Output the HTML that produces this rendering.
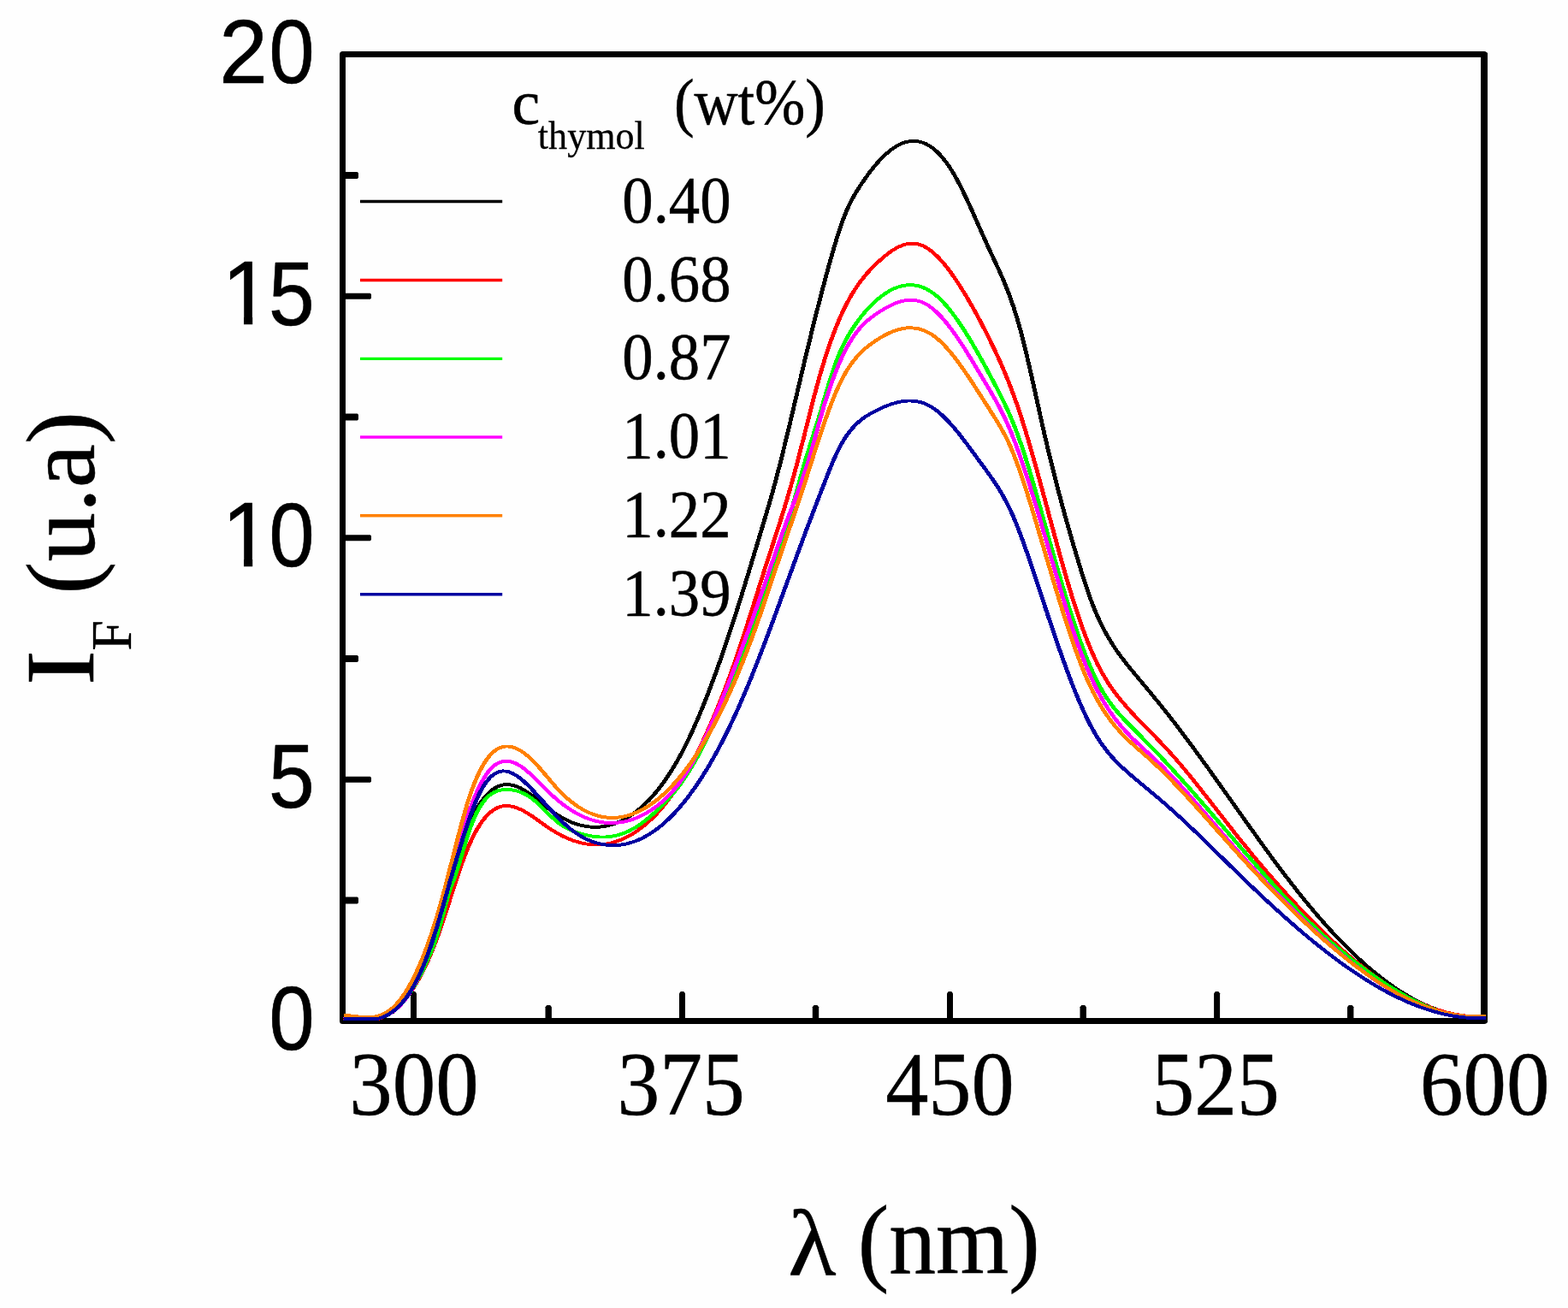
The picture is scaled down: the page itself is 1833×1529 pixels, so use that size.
<!DOCTYPE html>
<html lang="en"><head><meta charset="utf-8"><title>Fluorescence spectra</title>
<style>html,body{margin:0;padding:0;background:#fff}body{width:1833px;height:1529px;overflow:hidden}svg{display:block}
.ser{font-family:"Liberation Serif","DejaVu Serif",serif;fill:#000;stroke:#000;stroke-linejoin:round}.san{font-family:"Liberation Sans","DejaVu Sans",sans-serif;fill:#000;stroke:#000;stroke-linejoin:round}
</style></head><body>
<svg width="1833" height="1529" viewBox="0 0 1833 1529">
<rect x="0" y="0" width="1833" height="1529" fill="#fefefe"/>
<rect x="400.5" y="63.5" width="1334.5" height="1130.0" fill="none" stroke="#000" stroke-width="7" stroke-linejoin="round"/>
<rect x="1731" y="61.6" width="8" height="1133.8" fill="#000"/>
<g fill="#000">
<polygon points="400.6,907.73 432.7,907.73 434.0,909.02 434.0,913.43 432.7,914.73 400.6,914.73"/>
<polygon points="400.6,625.25 432.7,625.25 434.0,626.55 434.0,630.95 432.7,632.25 400.6,632.25"/>
<polygon points="400.6,342.78 432.7,342.78 434.0,344.08 434.0,348.48 432.7,349.78 400.6,349.78"/>
<polygon points="400.6,1048.46 417.7,1048.46 419.0,1049.76 419.0,1055.16 417.7,1056.46 400.6,1056.46"/>
<polygon points="400.6,765.99 417.7,765.99 419.0,767.29 419.0,772.69 417.7,773.99 400.6,773.99"/>
<polygon points="400.6,483.51 417.7,483.51 419.0,484.81 419.0,490.21 417.7,491.51 400.6,491.51"/>
<polygon points="400.6,201.04 417.7,201.04 419.0,202.34 419.0,207.74 417.7,209.04 400.6,209.04"/>
<polygon points="480.00,1193.4 480.00,1161.2 481.76,1159.0 485.24,1159.0 487.00,1161.2 487.00,1193.4"/>
<polygon points="794.00,1193.4 794.00,1161.2 795.76,1159.0 799.24,1159.0 801.00,1161.2 801.00,1193.4"/>
<polygon points="1107.00,1193.4 1107.00,1161.2 1108.76,1159.0 1112.24,1159.0 1114.00,1161.2 1114.00,1193.4"/>
<polygon points="1419.10,1193.4 1419.10,1161.2 1420.86,1159.0 1424.34,1159.0 1426.10,1161.2 1426.10,1193.4"/>
<polygon points="637.50,1193.4 637.50,1177.2 639.26,1175.0 643.14,1175.0 644.90,1177.2 644.90,1193.4"/>
<polygon points="949.80,1193.4 949.80,1177.2 951.56,1175.0 955.44,1175.0 957.20,1177.2 957.20,1193.4"/>
<polygon points="1262.50,1193.4 1262.50,1177.2 1264.26,1175.0 1268.14,1175.0 1269.90,1177.2 1269.90,1193.4"/>
<polygon points="1575.00,1193.4 1575.00,1177.2 1576.76,1175.0 1580.64,1175.0 1582.40,1177.2 1582.40,1193.4"/>
</g>
<g id="curves" fill="none" stroke-width="3.9" stroke-linejoin="round" stroke-linecap="butt" shape-rendering="crispEdges" transform="scale(1.25 1)">
<path stroke="#000000" d="M321.28 1191.0 L323.68 1191.0 L326.08 1191.1 L328.48 1191.2 L330.88 1191.4 L333.28 1191.4 L335.68 1191.4 L338.08 1191.4 L340.48 1191.4 L342.88 1191.4 L345.28 1191.4 L347.68 1191.4 L350.08 1191.4 L352.48 1191.0 L354.88 1190.3 L357.28 1189.4 L359.68 1188.3 L362.08 1186.9 L364.48 1185.2 L366.88 1183.3 L369.28 1181.0 L371.68 1178.4 L374.08 1175.4 L376.48 1172.0 L378.88 1168.2 L381.28 1164.0 L383.68 1159.3 L386.08 1154.2 L388.48 1148.6 L390.88 1142.6 L393.28 1136.1 L395.68 1129.2 L398.08 1121.8 L400.48 1113.9 L402.88 1105.6 L405.28 1096.9 L407.68 1087.7 L410.08 1078.0 L412.48 1068.1 L414.88 1057.9 L417.28 1047.6 L419.68 1037.2 L422.08 1026.9 L424.48 1016.8 L426.88 1006.9 L429.28 997.3 L431.68 988.1 L434.08 979.4 L436.48 971.4 L438.88 964.0 L441.28 957.2 L443.68 951.1 L446.08 945.5 L448.48 940.5 L450.88 936.0 L453.28 932.1 L455.68 928.6 L458.08 925.7 L460.48 923.2 L462.88 921.2 L465.28 919.6 L467.68 918.4 L470.08 917.6 L472.48 917.2 L474.88 917.1 L477.28 917.4 L479.68 917.9 L482.08 918.8 L484.48 919.9 L486.88 921.3 L489.28 923.0 L491.68 924.8 L494.08 926.8 L496.48 928.9 L498.88 931.2 L501.28 933.6 L503.68 936.0 L506.08 938.4 L508.48 940.8 L510.88 943.2 L513.28 945.6 L515.68 947.8 L518.08 949.9 L520.48 951.9 L522.88 953.8 L525.28 955.6 L527.68 957.2 L530.08 958.7 L532.48 960.1 L534.88 961.4 L537.28 962.5 L539.68 963.5 L542.08 964.4 L544.48 965.1 L546.88 965.7 L549.28 966.2 L551.68 966.5 L554.08 966.7 L556.48 966.8 L558.88 966.8 L561.28 966.6 L563.68 966.2 L566.08 965.7 L568.48 965.1 L570.88 964.4 L573.28 963.5 L575.68 962.4 L578.08 961.2 L580.48 959.9 L582.88 958.4 L585.28 956.8 L587.68 955.0 L590.08 953.1 L592.48 951.0 L594.88 948.8 L597.28 946.4 L599.68 943.9 L602.08 941.2 L604.48 938.3 L606.88 935.3 L609.28 932.1 L611.68 928.7 L614.08 925.2 L616.48 921.4 L618.88 917.5 L621.28 913.4 L623.68 909.0 L626.08 904.5 L628.48 899.8 L630.88 894.8 L633.28 889.7 L635.68 884.3 L638.08 878.7 L640.48 872.9 L642.88 866.8 L645.28 860.6 L647.68 854.1 L650.08 847.3 L652.48 840.4 L654.88 833.3 L657.28 826.0 L659.68 818.5 L662.08 810.9 L664.48 803.0 L666.88 795.0 L669.28 786.9 L671.68 778.5 L674.08 770.0 L676.48 761.4 L678.88 752.6 L681.28 743.6 L683.68 734.5 L686.08 725.3 L688.48 715.9 L690.88 706.5 L693.28 696.9 L695.68 687.2 L698.08 677.5 L700.48 667.7 L702.88 657.8 L705.28 647.8 L707.68 637.9 L710.08 627.9 L712.48 617.9 L714.88 607.9 L717.28 597.8 L719.68 587.6 L722.08 577.1 L724.48 566.2 L726.88 554.9 L729.28 543.3 L731.68 531.3 L734.08 519.1 L736.48 506.7 L738.88 494.2 L741.28 481.5 L743.68 468.8 L746.08 456.0 L748.48 443.2 L750.88 430.5 L753.28 417.9 L755.68 405.5 L758.08 393.2 L760.48 381.0 L762.88 369.0 L765.28 357.2 L767.68 345.5 L770.08 334.1 L772.48 322.9 L774.88 311.9 L777.28 301.1 L779.68 290.7 L782.08 280.7 L784.48 271.2 L786.88 262.2 L789.28 254.0 L791.68 246.5 L794.08 239.9 L796.48 233.9 L798.88 228.4 L801.28 223.4 L803.68 218.7 L806.08 214.2 L808.48 209.8 L810.88 205.6 L813.28 201.5 L815.68 197.7 L818.08 194.0 L820.48 190.5 L822.88 187.2 L825.28 184.1 L827.68 181.1 L830.08 178.5 L832.48 176.0 L834.88 173.8 L837.28 171.8 L839.68 170.0 L842.08 168.5 L844.48 167.2 L846.88 166.2 L849.28 165.5 L851.68 165.0 L854.08 164.9 L856.48 165.0 L858.88 165.4 L861.28 166.1 L863.68 167.0 L866.08 168.3 L868.48 170.0 L870.88 171.9 L873.28 174.1 L875.68 176.7 L878.08 179.6 L880.48 182.9 L882.88 186.5 L885.28 190.4 L887.68 194.7 L890.08 199.4 L892.48 204.4 L894.88 209.8 L897.28 215.4 L899.68 221.4 L902.08 227.5 L904.48 233.9 L906.88 240.4 L909.28 247.0 L911.68 253.8 L914.08 260.5 L916.48 267.3 L918.88 274.1 L921.28 280.8 L923.68 287.4 L926.08 293.9 L928.48 300.3 L930.88 306.7 L933.28 313.1 L935.68 319.8 L938.08 326.6 L940.48 333.8 L942.88 341.4 L945.28 349.5 L947.68 358.2 L950.08 367.6 L952.48 377.6 L954.88 388.5 L957.28 400.2 L959.68 412.5 L962.08 425.2 L964.48 438.4 L966.88 451.9 L969.28 465.4 L971.68 479.1 L974.08 492.6 L976.48 505.9 L978.88 518.8 L981.28 531.5 L983.68 543.8 L986.08 555.7 L988.48 567.4 L990.88 578.9 L993.28 590.0 L995.68 601.0 L998.08 611.8 L1000.48 622.3 L1002.88 632.7 L1005.28 643.0 L1007.68 653.1 L1010.08 663.1 L1012.48 672.7 L1014.88 682.1 L1017.28 691.0 L1019.68 699.5 L1022.08 707.5 L1024.48 714.9 L1026.88 721.7 L1029.28 728.2 L1031.68 734.2 L1034.08 739.8 L1036.48 745.1 L1038.88 750.1 L1041.28 754.9 L1043.68 759.4 L1046.08 763.7 L1048.48 767.8 L1050.88 771.7 L1053.28 775.6 L1055.68 779.3 L1058.08 783.0 L1060.48 786.6 L1062.88 790.2 L1065.28 793.8 L1067.68 797.4 L1070.08 801.0 L1072.48 804.6 L1074.88 808.2 L1077.28 811.9 L1079.68 815.5 L1082.08 819.2 L1084.48 822.9 L1086.88 826.7 L1089.28 830.4 L1091.68 834.2 L1094.08 838.0 L1096.48 841.9 L1098.88 845.7 L1101.28 849.7 L1103.68 853.6 L1106.08 857.6 L1108.48 861.6 L1110.88 865.6 L1113.28 869.6 L1115.68 873.7 L1118.08 877.8 L1120.48 881.9 L1122.88 886.0 L1125.28 890.2 L1127.68 894.3 L1130.08 898.5 L1132.48 902.7 L1134.88 906.9 L1137.28 911.1 L1139.68 915.3 L1142.08 919.6 L1144.48 923.8 L1146.88 928.0 L1149.28 932.3 L1151.68 936.5 L1154.08 940.7 L1156.48 945.0 L1158.88 949.2 L1161.28 953.5 L1163.68 957.7 L1166.08 961.9 L1168.48 966.1 L1170.88 970.3 L1173.28 974.5 L1175.68 978.7 L1178.08 982.9 L1180.48 987.0 L1182.88 991.2 L1185.28 995.3 L1187.68 999.4 L1190.08 1003.5 L1192.48 1007.5 L1194.88 1011.6 L1197.28 1015.6 L1199.68 1019.6 L1202.08 1023.5 L1204.48 1027.4 L1206.88 1031.3 L1209.28 1035.2 L1211.68 1039.0 L1214.08 1042.8 L1216.48 1046.6 L1218.88 1050.3 L1221.28 1054.0 L1223.68 1057.7 L1226.08 1061.3 L1228.48 1064.8 L1230.88 1068.4 L1233.28 1071.8 L1235.68 1075.3 L1238.08 1078.7 L1240.48 1082.1 L1242.88 1085.4 L1245.28 1088.7 L1247.68 1091.9 L1250.08 1095.1 L1252.48 1098.2 L1254.88 1101.3 L1257.28 1104.4 L1259.68 1107.4 L1262.08 1110.4 L1264.48 1113.3 L1266.88 1116.1 L1269.28 1119.0 L1271.68 1121.7 L1274.08 1124.5 L1276.48 1127.1 L1278.88 1129.8 L1281.28 1132.3 L1283.68 1134.8 L1286.08 1137.3 L1288.48 1139.7 L1290.88 1142.1 L1293.28 1144.4 L1295.68 1146.7 L1298.08 1148.9 L1300.48 1151.0 L1302.88 1153.1 L1305.28 1155.2 L1307.68 1157.2 L1310.08 1159.1 L1312.48 1161.0 L1314.88 1162.8 L1317.28 1164.6 L1319.68 1166.3 L1322.08 1167.9 L1324.48 1169.5 L1326.88 1171.0 L1329.28 1172.5 L1331.68 1173.9 L1334.08 1175.2 L1336.48 1176.5 L1338.88 1177.8 L1341.28 1178.9 L1343.68 1180.0 L1346.08 1181.0 L1348.48 1182.0 L1350.88 1182.9 L1353.28 1183.8 L1355.68 1184.5 L1358.08 1185.2 L1360.48 1185.9 L1362.88 1186.5 L1365.28 1187.0 L1367.68 1187.4 L1370.08 1187.8 L1372.48 1188.1 L1374.88 1188.3 L1377.28 1188.5 L1379.68 1188.6 L1382.08 1188.6 L1384.48 1188.6 L1386.88 1188.4 L1389.60 1188.4"/>
<path stroke="#ff0000" d="M321.28 1190.3 L323.68 1191.1 L326.08 1191.4 L328.48 1191.4 L330.88 1191.4 L333.28 1191.4 L335.68 1191.4 L338.08 1191.4 L340.48 1191.4 L342.88 1191.4 L345.28 1191.4 L347.68 1191.4 L350.08 1191.4 L352.48 1191.4 L354.88 1190.5 L357.28 1189.3 L359.68 1187.9 L362.08 1186.3 L364.48 1184.5 L366.88 1182.4 L369.28 1180.1 L371.68 1177.5 L374.08 1174.6 L376.48 1171.5 L378.88 1168.0 L381.28 1164.3 L383.68 1160.2 L386.08 1155.8 L388.48 1151.1 L390.88 1146.0 L393.28 1140.6 L395.68 1134.8 L398.08 1128.7 L400.48 1122.1 L402.88 1115.2 L405.28 1107.8 L407.68 1100.1 L410.08 1091.9 L412.48 1083.3 L414.88 1074.3 L417.28 1065.1 L419.68 1055.8 L422.08 1046.4 L424.48 1037.0 L426.88 1027.8 L429.28 1018.9 L431.68 1010.3 L434.08 1002.1 L436.48 994.5 L438.88 987.4 L441.28 980.9 L443.68 974.9 L446.08 969.5 L448.48 964.6 L450.88 960.2 L453.28 956.4 L455.68 953.0 L458.08 950.1 L460.48 947.7 L462.88 945.7 L465.28 944.2 L467.68 943.1 L470.08 942.4 L472.48 942.1 L474.88 942.0 L477.28 942.4 L479.68 942.9 L482.08 943.8 L484.48 944.9 L486.88 946.2 L489.28 947.7 L491.68 949.4 L494.08 951.2 L496.48 953.1 L498.88 955.1 L501.28 957.2 L503.68 959.4 L506.08 961.5 L508.48 963.7 L510.88 965.8 L513.28 967.9 L515.68 969.8 L518.08 971.7 L520.48 973.5 L522.88 975.2 L525.28 976.8 L527.68 978.3 L530.08 979.6 L532.48 980.9 L534.88 982.1 L537.28 983.1 L539.68 984.0 L542.08 984.9 L544.48 985.6 L546.88 986.2 L549.28 986.7 L551.68 987.0 L554.08 987.3 L556.48 987.4 L558.88 987.4 L561.28 987.3 L563.68 987.0 L566.08 986.7 L568.48 986.2 L570.88 985.6 L573.28 984.8 L575.68 983.9 L578.08 982.9 L580.48 981.8 L582.88 980.5 L585.28 979.1 L587.68 977.6 L590.08 975.9 L592.48 974.1 L594.88 972.1 L597.28 970.0 L599.68 967.8 L602.08 965.4 L604.48 962.9 L606.88 960.2 L609.28 957.4 L611.68 954.4 L614.08 951.3 L616.48 948.0 L618.88 944.5 L621.28 940.9 L623.68 937.2 L626.08 933.2 L628.48 929.1 L630.88 924.9 L633.28 920.5 L635.68 915.9 L638.08 911.1 L640.48 906.1 L642.88 901.0 L645.28 895.7 L647.68 890.2 L650.08 884.6 L652.48 878.8 L654.88 872.7 L657.28 866.6 L659.68 860.2 L662.08 853.6 L664.48 846.9 L666.88 840.0 L669.28 832.9 L671.68 825.6 L674.08 818.1 L676.48 810.4 L678.88 802.6 L681.28 794.5 L683.68 786.3 L686.08 777.9 L688.48 769.3 L690.88 760.5 L693.28 751.5 L695.68 742.4 L698.08 733.1 L700.48 723.7 L702.88 714.2 L705.28 704.7 L707.68 695.1 L710.08 685.6 L712.48 676.1 L714.88 666.7 L717.28 657.3 L719.68 648.0 L722.08 638.8 L724.48 629.6 L726.88 620.3 L729.28 611.0 L731.68 601.4 L734.08 591.7 L736.48 581.7 L738.88 571.5 L741.28 560.9 L743.68 550.0 L746.08 538.6 L748.48 527.0 L750.88 515.2 L753.28 503.2 L755.68 491.3 L758.08 479.5 L760.48 467.8 L762.88 456.4 L765.28 445.4 L767.68 434.9 L770.08 424.9 L772.48 415.3 L774.88 406.2 L777.28 397.6 L779.68 389.5 L782.08 381.8 L784.48 374.5 L786.88 367.7 L789.28 361.3 L791.68 355.3 L794.08 349.7 L796.48 344.5 L798.88 339.6 L801.28 335.0 L803.68 330.8 L806.08 326.8 L808.48 323.1 L810.88 319.5 L813.28 316.2 L815.68 313.0 L818.08 310.0 L820.48 307.1 L822.88 304.4 L825.28 301.7 L827.68 299.2 L830.08 296.8 L832.48 294.6 L834.88 292.5 L837.28 290.7 L839.68 289.1 L842.08 287.7 L844.48 286.5 L846.88 285.6 L849.28 285.0 L851.68 284.6 L854.08 284.6 L856.48 284.9 L858.88 285.5 L861.28 286.4 L863.68 287.7 L866.08 289.3 L868.48 291.2 L870.88 293.4 L873.28 295.9 L875.68 298.7 L878.08 301.7 L880.48 304.9 L882.88 308.4 L885.28 312.1 L887.68 316.0 L890.08 320.1 L892.48 324.4 L894.88 328.9 L897.28 333.5 L899.68 338.2 L902.08 343.1 L904.48 348.0 L906.88 353.2 L909.28 358.4 L911.68 363.7 L914.08 369.2 L916.48 374.8 L918.88 380.5 L921.28 386.4 L923.68 392.3 L926.08 398.4 L928.48 404.6 L930.88 410.9 L933.28 417.4 L935.68 424.0 L938.08 430.9 L940.48 438.0 L942.88 445.3 L945.28 453.0 L947.68 461.0 L950.08 469.3 L952.48 478.0 L954.88 487.1 L957.28 496.5 L959.68 506.3 L962.08 516.3 L964.48 526.6 L966.88 537.2 L969.28 547.9 L971.68 558.7 L974.08 569.7 L976.48 580.8 L978.88 591.9 L981.28 603.0 L983.68 614.1 L986.08 625.2 L988.48 636.2 L990.88 647.1 L993.28 657.8 L995.68 668.4 L998.08 678.7 L1000.48 688.8 L1002.88 698.6 L1005.28 708.1 L1007.68 717.2 L1010.08 726.1 L1012.48 734.5 L1014.88 742.7 L1017.28 750.4 L1019.68 757.8 L1022.08 764.8 L1024.48 771.4 L1026.88 777.5 L1029.28 783.3 L1031.68 788.7 L1034.08 793.7 L1036.48 798.5 L1038.88 803.0 L1041.28 807.2 L1043.68 811.2 L1046.08 815.1 L1048.48 818.8 L1050.88 822.3 L1053.28 825.8 L1055.68 829.2 L1058.08 832.5 L1060.48 835.7 L1062.88 838.9 L1065.28 842.0 L1067.68 845.1 L1070.08 848.2 L1072.48 851.3 L1074.88 854.3 L1077.28 857.4 L1079.68 860.4 L1082.08 863.5 L1084.48 866.6 L1086.88 869.8 L1089.28 873.0 L1091.68 876.2 L1094.08 879.5 L1096.48 882.9 L1098.88 886.3 L1101.28 889.8 L1103.68 893.3 L1106.08 896.8 L1108.48 900.4 L1110.88 904.0 L1113.28 907.7 L1115.68 911.4 L1118.08 915.1 L1120.48 918.9 L1122.88 922.7 L1125.28 926.5 L1127.68 930.3 L1130.08 934.1 L1132.48 937.9 L1134.88 941.8 L1137.28 945.6 L1139.68 949.5 L1142.08 953.4 L1144.48 957.2 L1146.88 961.1 L1149.28 964.9 L1151.68 968.7 L1154.08 972.5 L1156.48 976.3 L1158.88 980.1 L1161.28 983.8 L1163.68 987.5 L1166.08 991.2 L1168.48 994.9 L1170.88 998.6 L1173.28 1002.2 L1175.68 1005.8 L1178.08 1009.3 L1180.48 1012.9 L1182.88 1016.4 L1185.28 1019.9 L1187.68 1023.4 L1190.08 1026.8 L1192.48 1030.2 L1194.88 1033.6 L1197.28 1037.0 L1199.68 1040.4 L1202.08 1043.7 L1204.48 1047.0 L1206.88 1050.2 L1209.28 1053.5 L1211.68 1056.7 L1214.08 1059.9 L1216.48 1063.1 L1218.88 1066.2 L1221.28 1069.3 L1223.68 1072.4 L1226.08 1075.5 L1228.48 1078.5 L1230.88 1081.5 L1233.28 1084.5 L1235.68 1087.4 L1238.08 1090.4 L1240.48 1093.2 L1242.88 1096.1 L1245.28 1098.9 L1247.68 1101.7 L1250.08 1104.5 L1252.48 1107.2 L1254.88 1109.9 L1257.28 1112.5 L1259.68 1115.2 L1262.08 1117.7 L1264.48 1120.3 L1266.88 1122.8 L1269.28 1125.3 L1271.68 1127.7 L1274.08 1130.1 L1276.48 1132.5 L1278.88 1134.8 L1281.28 1137.1 L1283.68 1139.3 L1286.08 1141.5 L1288.48 1143.6 L1290.88 1145.7 L1293.28 1147.8 L1295.68 1149.8 L1298.08 1151.8 L1300.48 1153.7 L1302.88 1155.6 L1305.28 1157.4 L1307.68 1159.2 L1310.08 1161.0 L1312.48 1162.7 L1314.88 1164.3 L1317.28 1165.9 L1319.68 1167.5 L1322.08 1169.0 L1324.48 1170.4 L1326.88 1171.8 L1329.28 1173.1 L1331.68 1174.4 L1334.08 1175.7 L1336.48 1176.8 L1338.88 1178.0 L1341.28 1179.0 L1343.68 1180.1 L1346.08 1181.0 L1348.48 1181.9 L1350.88 1182.8 L1353.28 1183.6 L1355.68 1184.3 L1358.08 1185.0 L1360.48 1185.6 L1362.88 1186.1 L1365.28 1186.6 L1367.68 1187.1 L1370.08 1187.4 L1372.48 1187.7 L1374.88 1188.0 L1377.28 1188.1 L1379.68 1188.3 L1382.08 1188.3 L1384.48 1188.3 L1386.88 1188.2 L1389.60 1188.2"/>
<path stroke="#00ff00" d="M321.28 1190.9 L323.68 1191.1 L326.08 1191.4 L328.48 1191.4 L330.88 1191.4 L333.28 1191.4 L335.68 1191.4 L338.08 1191.4 L340.48 1191.4 L342.88 1191.4 L345.28 1191.4 L347.68 1191.4 L350.08 1191.4 L352.48 1191.0 L354.88 1190.2 L357.28 1189.2 L359.68 1188.0 L362.08 1186.5 L364.48 1184.8 L366.88 1182.8 L369.28 1180.5 L371.68 1178.0 L374.08 1175.0 L376.48 1171.8 L378.88 1168.2 L381.28 1164.2 L383.68 1159.9 L386.08 1155.2 L388.48 1150.3 L390.88 1144.9 L393.28 1139.2 L395.68 1133.2 L398.08 1126.9 L400.48 1120.2 L402.88 1113.2 L405.28 1105.7 L407.68 1097.4 L410.08 1088.2 L412.48 1077.8 L414.88 1066.6 L417.28 1055.1 L419.68 1044.3 L422.08 1035.5 L424.48 1027.9 L426.88 1019.4 L429.28 1010.0 L431.68 1000.1 L434.08 990.0 L436.48 980.3 L438.88 971.1 L441.28 963.0 L443.68 955.8 L446.08 949.4 L448.48 944.0 L450.88 939.3 L453.28 935.3 L455.68 932.0 L458.08 929.4 L460.48 927.3 L462.88 925.7 L465.28 924.5 L467.68 923.7 L470.08 923.2 L472.48 923.0 L474.88 923.0 L477.28 923.2 L479.68 923.6 L482.08 924.2 L484.48 925.0 L486.88 926.0 L489.28 927.3 L491.68 928.8 L494.08 930.6 L496.48 932.6 L498.88 934.8 L501.28 937.3 L503.68 940.0 L506.08 942.9 L508.48 945.8 L510.88 948.8 L513.28 951.8 L515.68 954.7 L518.08 957.4 L520.48 960.1 L522.88 962.5 L525.28 964.6 L527.68 966.5 L530.08 968.1 L532.48 969.6 L534.88 970.9 L537.28 972.1 L539.68 973.1 L542.08 974.1 L544.48 975.0 L546.88 975.8 L549.28 976.5 L551.68 977.1 L554.08 977.6 L556.48 978.0 L558.88 978.3 L561.28 978.5 L563.68 978.5 L566.08 978.5 L568.48 978.3 L570.88 977.9 L573.28 977.5 L575.68 976.9 L578.08 976.1 L580.48 975.2 L582.88 974.2 L585.28 973.0 L587.68 971.7 L590.08 970.2 L592.48 968.5 L594.88 966.7 L597.28 964.8 L599.68 962.7 L602.08 960.5 L604.48 958.2 L606.88 955.7 L609.28 953.2 L611.68 950.5 L614.08 947.8 L616.48 944.9 L618.88 941.9 L621.28 938.9 L623.68 935.7 L626.08 932.4 L628.48 929.0 L630.88 925.4 L633.28 921.6 L635.68 917.7 L638.08 913.6 L640.48 909.2 L642.88 904.6 L645.28 899.8 L647.68 894.8 L650.08 889.6 L652.48 884.2 L654.88 878.6 L657.28 872.8 L659.68 866.8 L662.08 860.7 L664.48 854.3 L666.88 847.9 L669.28 841.2 L671.68 834.4 L674.08 827.5 L676.48 820.5 L678.88 813.3 L681.28 806.0 L683.68 798.5 L686.08 791.0 L688.48 783.3 L690.88 775.6 L693.28 767.8 L695.68 759.8 L698.08 751.9 L700.48 743.8 L702.88 735.6 L705.28 727.4 L707.68 719.2 L710.08 710.9 L712.48 702.6 L714.88 694.1 L717.28 685.6 L719.68 677.0 L722.08 668.3 L724.48 659.3 L726.88 650.2 L729.28 640.8 L731.68 631.2 L734.08 621.3 L736.48 611.3 L738.88 601.6 L741.28 591.6 L743.68 580.8 L746.08 569.7 L748.48 558.7 L750.88 548.0 L753.28 537.9 L755.68 528.1 L758.08 518.5 L760.48 509.0 L762.88 499.5 L765.28 489.9 L767.68 480.0 L770.08 469.9 L772.48 459.8 L774.88 449.9 L777.28 440.2 L779.68 431.1 L782.08 422.6 L784.48 414.9 L786.88 408.0 L789.28 401.7 L791.68 396.0 L794.08 390.8 L796.48 385.9 L798.88 381.3 L801.28 377.0 L803.68 372.8 L806.08 369.0 L808.48 365.3 L810.88 361.9 L813.28 358.6 L815.68 355.6 L818.08 352.8 L820.48 350.1 L822.88 347.7 L825.28 345.4 L827.68 343.3 L830.08 341.3 L832.48 339.6 L834.88 338.1 L837.28 336.7 L839.68 335.6 L842.08 334.7 L844.48 334.0 L846.88 333.5 L849.28 333.2 L851.68 333.1 L854.08 333.3 L856.48 333.7 L858.88 334.3 L861.28 335.2 L863.68 336.3 L866.08 337.7 L868.48 339.3 L870.88 341.2 L873.28 343.3 L875.68 345.7 L878.08 348.3 L880.48 351.2 L882.88 354.4 L885.28 357.7 L887.68 361.3 L890.08 365.1 L892.48 369.1 L894.88 373.2 L897.28 377.6 L899.68 382.1 L902.08 386.7 L904.48 391.5 L906.88 396.4 L909.28 401.4 L911.68 406.6 L914.08 411.8 L916.48 417.1 L918.88 422.6 L921.28 428.0 L923.68 433.6 L926.08 439.2 L928.48 444.8 L930.88 450.5 L933.28 456.2 L935.68 462.1 L938.08 468.1 L940.48 474.4 L942.88 481.0 L945.28 487.8 L947.68 495.0 L950.08 502.6 L952.48 510.6 L954.88 519.1 L957.28 528.0 L959.68 537.4 L962.08 547.1 L964.48 557.1 L966.88 567.3 L969.28 577.8 L971.68 588.4 L974.08 599.1 L976.48 609.8 L978.88 620.5 L981.28 631.2 L983.68 641.8 L986.08 652.3 L988.48 662.8 L990.88 673.1 L993.28 683.2 L995.68 693.2 L998.08 703.1 L1000.48 712.7 L1002.88 722.0 L1005.28 731.2 L1007.68 740.0 L1010.08 748.6 L1012.48 756.8 L1014.88 764.7 L1017.28 772.3 L1019.68 779.4 L1022.08 786.2 L1024.48 792.6 L1026.88 798.5 L1029.28 804.0 L1031.68 809.2 L1034.08 814.0 L1036.48 818.5 L1038.88 822.7 L1041.28 826.6 L1043.68 830.3 L1046.08 833.9 L1048.48 837.3 L1050.88 840.5 L1053.28 843.6 L1055.68 846.7 L1058.08 849.7 L1060.48 852.7 L1062.88 855.7 L1065.28 858.7 L1067.68 861.7 L1070.08 864.8 L1072.48 867.8 L1074.88 870.9 L1077.28 874.0 L1079.68 877.1 L1082.08 880.2 L1084.48 883.4 L1086.88 886.5 L1089.28 889.7 L1091.68 892.9 L1094.08 896.1 L1096.48 899.4 L1098.88 902.7 L1101.28 906.0 L1103.68 909.3 L1106.08 912.6 L1108.48 916.0 L1110.88 919.3 L1113.28 922.7 L1115.68 926.1 L1118.08 929.5 L1120.48 932.9 L1122.88 936.4 L1125.28 939.8 L1127.68 943.3 L1130.08 946.7 L1132.48 950.2 L1134.88 953.7 L1137.28 957.2 L1139.68 960.7 L1142.08 964.1 L1144.48 967.6 L1146.88 971.1 L1149.28 974.6 L1151.68 978.1 L1154.08 981.6 L1156.48 985.1 L1158.88 988.5 L1161.28 992.0 L1163.68 995.5 L1166.08 998.9 L1168.48 1002.4 L1170.88 1005.8 L1173.28 1009.3 L1175.68 1012.7 L1178.08 1016.1 L1180.48 1019.5 L1182.88 1022.8 L1185.28 1026.2 L1187.68 1029.5 L1190.08 1032.8 L1192.48 1036.1 L1194.88 1039.4 L1197.28 1042.7 L1199.68 1045.9 L1202.08 1049.1 L1204.48 1052.3 L1206.88 1055.5 L1209.28 1058.6 L1211.68 1061.7 L1214.08 1064.8 L1216.48 1067.8 L1218.88 1070.8 L1221.28 1073.8 L1223.68 1076.8 L1226.08 1079.7 L1228.48 1082.6 L1230.88 1085.4 L1233.28 1088.2 L1235.68 1091.0 L1238.08 1093.8 L1240.48 1096.5 L1242.88 1099.2 L1245.28 1101.8 L1247.68 1104.4 L1250.08 1107.0 L1252.48 1109.5 L1254.88 1112.1 L1257.28 1114.5 L1259.68 1117.0 L1262.08 1119.4 L1264.48 1121.8 L1266.88 1124.1 L1269.28 1126.4 L1271.68 1128.7 L1274.08 1131.0 L1276.48 1133.2 L1278.88 1135.4 L1281.28 1137.6 L1283.68 1139.7 L1286.08 1141.8 L1288.48 1143.8 L1290.88 1145.9 L1293.28 1147.9 L1295.68 1149.8 L1298.08 1151.8 L1300.48 1153.7 L1302.88 1155.6 L1305.28 1157.4 L1307.68 1159.2 L1310.08 1161.0 L1312.48 1162.7 L1314.88 1164.4 L1317.28 1166.1 L1319.68 1167.7 L1322.08 1169.3 L1324.48 1170.8 L1326.88 1172.3 L1329.28 1173.7 L1331.68 1175.0 L1334.08 1176.4 L1336.48 1177.6 L1338.88 1178.8 L1341.28 1179.9 L1343.68 1181.0 L1346.08 1182.0 L1348.48 1183.0 L1350.88 1183.9 L1353.28 1184.7 L1355.68 1185.4 L1358.08 1186.1 L1360.48 1186.7 L1362.88 1187.2 L1365.28 1187.6 L1367.68 1188.0 L1370.08 1188.2 L1372.48 1188.4 L1374.88 1188.5 L1377.28 1188.5 L1379.68 1188.5 L1382.08 1188.3 L1384.48 1188.0 L1386.88 1187.7 L1389.60 1187.7"/>
<path stroke="#ff00ff" d="M321.28 1191.3 L323.68 1191.1 L326.08 1191.1 L328.48 1191.1 L330.88 1191.1 L333.28 1191.2 L335.68 1191.4 L338.08 1191.4 L340.48 1191.4 L342.88 1191.4 L345.28 1191.4 L347.68 1191.3 L350.08 1191.0 L352.48 1190.5 L354.88 1189.8 L357.28 1189.0 L359.68 1187.9 L362.08 1186.6 L364.48 1185.0 L366.88 1183.2 L369.28 1181.0 L371.68 1178.4 L374.08 1175.5 L376.48 1172.2 L378.88 1168.5 L381.28 1164.4 L383.68 1159.8 L386.08 1154.8 L388.48 1149.2 L390.88 1143.1 L393.28 1136.4 L395.68 1129.2 L398.08 1121.4 L400.48 1112.9 L402.88 1103.8 L405.28 1094.2 L407.68 1084.0 L410.08 1073.5 L412.48 1062.6 L414.88 1051.5 L417.28 1040.3 L419.68 1029.1 L422.08 1017.9 L424.48 1006.9 L426.88 996.1 L429.28 985.7 L431.68 975.6 L434.08 966.0 L436.48 956.9 L438.88 948.2 L441.28 940.1 L443.68 932.5 L446.08 925.5 L448.48 919.1 L450.88 913.3 L453.28 908.2 L455.68 903.7 L458.08 899.9 L460.48 896.8 L462.88 894.3 L465.28 892.3 L467.68 891.0 L470.08 890.1 L472.48 889.7 L474.88 889.7 L477.28 890.2 L479.68 891.1 L482.08 892.3 L484.48 893.8 L486.88 895.7 L489.28 897.7 L491.68 900.1 L494.08 902.6 L496.48 905.3 L498.88 908.1 L501.28 911.0 L503.68 914.0 L506.08 917.0 L508.48 920.1 L510.88 923.1 L513.28 926.0 L515.68 928.9 L518.08 931.6 L520.48 934.3 L522.88 936.8 L525.28 939.2 L527.68 941.4 L530.08 943.6 L532.48 945.6 L534.88 947.6 L537.28 949.4 L539.68 951.1 L542.08 952.6 L544.48 954.1 L546.88 955.4 L549.28 956.6 L551.68 957.7 L554.08 958.7 L556.48 959.5 L558.88 960.3 L561.28 960.9 L563.68 961.3 L566.08 961.7 L568.48 961.9 L570.88 962.0 L573.28 962.0 L575.68 961.9 L578.08 961.6 L580.48 961.2 L582.88 960.7 L585.28 960.1 L587.68 959.3 L590.08 958.4 L592.48 957.4 L594.88 956.3 L597.28 955.0 L599.68 953.6 L602.08 952.0 L604.48 950.4 L606.88 948.6 L609.28 946.7 L611.68 944.6 L614.08 942.4 L616.48 940.1 L618.88 937.6 L621.28 934.9 L623.68 932.0 L626.08 929.0 L628.48 925.7 L630.88 922.3 L633.28 918.6 L635.68 914.6 L638.08 910.5 L640.48 906.0 L642.88 901.3 L645.28 896.4 L647.68 891.2 L650.08 885.8 L652.48 880.1 L654.88 874.2 L657.28 868.2 L659.68 861.9 L662.08 855.5 L664.48 848.9 L666.88 842.1 L669.28 835.2 L671.68 828.2 L674.08 821.0 L676.48 813.7 L678.88 806.3 L681.28 798.8 L683.68 791.2 L686.08 783.5 L688.48 775.6 L690.88 767.7 L693.28 759.7 L695.68 751.6 L698.08 743.4 L700.48 735.2 L702.88 726.8 L705.28 718.4 L707.68 709.9 L710.08 701.3 L712.48 692.6 L714.88 683.9 L717.28 675.2 L719.68 666.4 L722.08 657.7 L724.48 649.0 L726.88 640.4 L729.28 631.9 L731.68 623.4 L734.08 615.1 L736.48 607.0 L738.88 599.0 L741.28 591.1 L743.68 583.2 L746.08 575.2 L748.48 567.0 L750.88 558.5 L753.28 549.6 L755.68 540.2 L758.08 530.2 L760.48 519.6 L762.88 508.8 L765.28 497.8 L767.68 487.1 L770.08 476.8 L772.48 467.1 L774.88 457.9 L777.28 449.1 L779.68 440.9 L782.08 433.2 L784.48 425.9 L786.88 419.1 L789.28 412.8 L791.68 406.9 L794.08 401.5 L796.48 396.6 L798.88 392.1 L801.28 388.0 L803.68 384.3 L806.08 380.9 L808.48 377.9 L810.88 375.2 L813.28 372.7 L815.68 370.4 L818.08 368.2 L820.48 366.2 L822.88 364.2 L825.28 362.4 L827.68 360.6 L830.08 358.9 L832.48 357.3 L834.88 355.9 L837.28 354.6 L839.68 353.4 L842.08 352.5 L844.48 351.7 L846.88 351.1 L849.28 350.8 L851.68 350.7 L854.08 350.8 L856.48 351.1 L858.88 351.8 L861.28 352.7 L863.68 353.9 L866.08 355.5 L868.48 357.3 L870.88 359.5 L873.28 361.9 L875.68 364.6 L878.08 367.5 L880.48 370.7 L882.88 374.1 L885.28 377.7 L887.68 381.5 L890.08 385.5 L892.48 389.6 L894.88 393.9 L897.28 398.3 L899.68 402.9 L902.08 407.5 L904.48 412.3 L906.88 417.1 L909.28 422.0 L911.68 427.0 L914.08 431.9 L916.48 437.0 L918.88 442.0 L921.28 447.0 L923.68 452.0 L926.08 457.1 L928.48 462.2 L930.88 467.4 L933.28 472.9 L935.68 478.5 L938.08 484.5 L940.48 490.8 L942.88 497.5 L945.28 504.6 L947.68 512.1 L950.08 519.9 L952.48 528.1 L954.88 536.6 L957.28 545.4 L959.68 554.5 L962.08 563.9 L964.48 573.4 L966.88 583.2 L969.28 593.1 L971.68 603.1 L974.08 613.3 L976.48 623.6 L978.88 633.9 L981.28 644.2 L983.68 654.6 L986.08 664.9 L988.48 675.1 L990.88 685.3 L993.28 695.3 L995.68 705.2 L998.08 714.9 L1000.48 724.5 L1002.88 733.7 L1005.28 742.8 L1007.68 751.5 L1010.08 759.9 L1012.48 768.0 L1014.88 775.7 L1017.28 783.0 L1019.68 789.9 L1022.08 796.4 L1024.48 802.6 L1026.88 808.5 L1029.28 814.0 L1031.68 819.2 L1034.08 824.2 L1036.48 828.8 L1038.88 833.3 L1041.28 837.5 L1043.68 841.5 L1046.08 845.2 L1048.48 848.8 L1050.88 852.3 L1053.28 855.6 L1055.68 858.7 L1058.08 861.8 L1060.48 864.7 L1062.88 867.6 L1065.28 870.4 L1067.68 873.2 L1070.08 875.9 L1072.48 878.7 L1074.88 881.4 L1077.28 884.2 L1079.68 887.0 L1082.08 889.8 L1084.48 892.7 L1086.88 895.7 L1089.28 898.7 L1091.68 901.8 L1094.08 904.9 L1096.48 908.0 L1098.88 911.2 L1101.28 914.5 L1103.68 917.7 L1106.08 921.0 L1108.48 924.3 L1110.88 927.7 L1113.28 931.1 L1115.68 934.5 L1118.08 937.9 L1120.48 941.3 L1122.88 944.8 L1125.28 948.3 L1127.68 951.7 L1130.08 955.2 L1132.48 958.7 L1134.88 962.2 L1137.28 965.7 L1139.68 969.2 L1142.08 972.7 L1144.48 976.2 L1146.88 979.6 L1149.28 983.1 L1151.68 986.5 L1154.08 990.0 L1156.48 993.4 L1158.88 996.8 L1161.28 1000.1 L1163.68 1003.5 L1166.08 1006.8 L1168.48 1010.1 L1170.88 1013.4 L1173.28 1016.7 L1175.68 1020.0 L1178.08 1023.2 L1180.48 1026.5 L1182.88 1029.7 L1185.28 1032.8 L1187.68 1036.0 L1190.08 1039.1 L1192.48 1042.3 L1194.88 1045.4 L1197.28 1048.5 L1199.68 1051.5 L1202.08 1054.6 L1204.48 1057.6 L1206.88 1060.6 L1209.28 1063.6 L1211.68 1066.6 L1214.08 1069.5 L1216.48 1072.4 L1218.88 1075.3 L1221.28 1078.2 L1223.68 1081.1 L1226.08 1083.9 L1228.48 1086.7 L1230.88 1089.5 L1233.28 1092.3 L1235.68 1095.0 L1238.08 1097.7 L1240.48 1100.4 L1242.88 1103.1 L1245.28 1105.7 L1247.68 1108.3 L1250.08 1110.9 L1252.48 1113.5 L1254.88 1116.0 L1257.28 1118.5 L1259.68 1120.9 L1262.08 1123.4 L1264.48 1125.8 L1266.88 1128.1 L1269.28 1130.4 L1271.68 1132.7 L1274.08 1135.0 L1276.48 1137.2 L1278.88 1139.4 L1281.28 1141.6 L1283.68 1143.7 L1286.08 1145.8 L1288.48 1147.8 L1290.88 1149.8 L1293.28 1151.7 L1295.68 1153.7 L1298.08 1155.5 L1300.48 1157.4 L1302.88 1159.2 L1305.28 1160.9 L1307.68 1162.6 L1310.08 1164.2 L1312.48 1165.9 L1314.88 1167.4 L1317.28 1168.9 L1319.68 1170.4 L1322.08 1171.8 L1324.48 1173.2 L1326.88 1174.5 L1329.28 1175.8 L1331.68 1177.0 L1334.08 1178.2 L1336.48 1179.3 L1338.88 1180.3 L1341.28 1181.3 L1343.68 1182.3 L1346.08 1183.2 L1348.48 1184.0 L1350.88 1184.8 L1353.28 1185.6 L1355.68 1186.2 L1358.08 1186.8 L1360.48 1187.4 L1362.88 1187.9 L1365.28 1188.3 L1367.68 1188.7 L1370.08 1189.0 L1372.48 1189.2 L1374.88 1189.4 L1377.28 1189.5 L1379.68 1189.6 L1382.08 1189.6 L1384.48 1189.5 L1386.88 1189.4 L1389.60 1189.4"/>
<path stroke="#ff8000" d="M321.57 1186.9 L323.97 1187.0 L326.37 1187.3 L328.77 1187.6 L331.17 1187.9 L333.57 1188.3 L335.97 1188.6 L338.37 1188.9 L340.77 1189.1 L343.17 1189.1 L345.57 1189.1 L347.97 1188.9 L350.37 1188.5 L352.77 1187.9 L355.17 1187.0 L357.57 1185.9 L359.97 1184.5 L362.37 1182.7 L364.77 1180.7 L367.17 1178.2 L369.57 1175.4 L371.97 1172.1 L374.37 1168.5 L376.77 1164.4 L379.17 1160.0 L381.57 1155.1 L383.97 1149.9 L386.37 1144.2 L388.77 1138.1 L391.17 1131.6 L393.57 1124.7 L395.97 1117.4 L398.37 1109.7 L400.77 1101.5 L403.17 1092.8 L405.57 1083.7 L407.97 1074.1 L410.37 1064.1 L412.77 1053.6 L415.17 1042.6 L417.57 1031.2 L419.97 1019.5 L422.37 1007.7 L424.77 995.9 L427.17 984.2 L429.57 972.7 L431.97 961.5 L434.37 950.8 L436.77 940.6 L439.17 931.2 L441.57 922.5 L443.97 914.7 L446.37 907.6 L448.77 901.2 L451.17 895.6 L453.57 890.7 L455.97 886.4 L458.37 882.8 L460.77 879.7 L463.17 877.3 L465.57 875.3 L467.97 873.9 L470.37 873.0 L472.77 872.5 L475.17 872.5 L477.57 872.8 L479.97 873.6 L482.37 874.6 L484.77 876.1 L487.17 877.8 L489.57 879.8 L491.97 882.1 L494.37 884.7 L496.77 887.4 L499.17 890.4 L501.57 893.5 L503.97 896.8 L506.37 900.2 L508.77 903.8 L511.17 907.3 L513.57 910.9 L515.97 914.5 L518.37 917.9 L520.77 921.3 L523.17 924.5 L525.57 927.5 L527.97 930.4 L530.37 933.1 L532.77 935.6 L535.17 938.0 L537.57 940.3 L539.97 942.4 L542.37 944.3 L544.77 946.1 L547.17 947.7 L549.57 949.2 L551.97 950.5 L554.37 951.7 L556.77 952.8 L559.17 953.6 L561.57 954.4 L563.97 955.0 L566.37 955.4 L568.77 955.7 L571.17 955.9 L573.57 955.9 L575.97 955.8 L578.37 955.5 L580.77 955.1 L583.17 954.5 L585.57 953.8 L587.97 953.0 L590.37 952.0 L592.77 950.9 L595.17 949.7 L597.57 948.3 L599.97 946.8 L602.37 945.2 L604.77 943.4 L607.17 941.5 L609.57 939.4 L611.97 937.3 L614.37 935.0 L616.77 932.5 L619.17 930.0 L621.57 927.3 L623.97 924.4 L626.37 921.4 L628.77 918.3 L631.17 915.0 L633.57 911.6 L635.97 908.1 L638.37 904.4 L640.77 900.6 L643.17 896.6 L645.57 892.5 L647.97 888.2 L650.37 883.8 L652.77 879.2 L655.17 874.4 L657.57 869.6 L659.97 864.5 L662.37 859.3 L664.77 854.0 L667.17 848.5 L669.57 842.8 L671.97 836.9 L674.37 831.0 L676.77 824.8 L679.17 818.5 L681.57 812.0 L683.97 805.3 L686.37 798.5 L688.77 791.5 L691.17 784.3 L693.57 777.0 L695.97 769.5 L698.37 761.8 L700.77 753.9 L703.17 745.9 L705.57 737.7 L707.97 729.3 L710.37 720.7 L712.77 712.0 L715.17 703.2 L717.57 694.4 L719.97 685.4 L722.37 676.5 L724.77 667.5 L727.17 658.6 L729.57 649.7 L731.97 640.8 L734.37 632.1 L736.77 623.4 L739.17 614.7 L741.57 606.0 L743.97 597.2 L746.37 588.3 L748.77 579.3 L751.17 570.1 L753.57 560.8 L755.97 551.4 L758.37 542.0 L760.77 532.6 L763.17 523.3 L765.57 514.0 L767.97 505.0 L770.37 496.1 L772.77 487.6 L775.17 479.3 L777.57 471.3 L779.97 463.8 L782.37 456.7 L784.77 450.0 L787.17 443.9 L789.57 438.3 L791.97 433.2 L794.37 428.5 L796.77 424.2 L799.17 420.3 L801.57 416.8 L803.97 413.5 L806.37 410.6 L808.77 407.8 L811.17 405.3 L813.57 403.0 L815.97 400.8 L818.37 398.7 L820.77 396.8 L823.17 394.9 L825.57 393.1 L827.97 391.5 L830.37 390.0 L832.77 388.6 L835.17 387.4 L837.57 386.3 L839.97 385.3 L842.37 384.6 L844.77 384.0 L847.17 383.5 L849.57 383.3 L851.97 383.3 L854.37 383.5 L856.77 383.8 L859.17 384.4 L861.57 385.3 L863.97 386.3 L866.37 387.6 L868.77 389.1 L871.17 390.9 L873.57 393.0 L875.97 395.3 L878.37 397.9 L880.77 400.7 L883.17 403.8 L885.57 407.0 L887.97 410.5 L890.37 414.1 L892.77 417.9 L895.17 421.8 L897.57 425.9 L899.97 430.1 L902.37 434.4 L904.77 438.8 L907.17 443.3 L909.57 447.8 L911.97 452.4 L914.37 457.1 L916.77 461.7 L919.17 466.4 L921.57 471.1 L923.97 475.8 L926.37 480.5 L928.77 485.2 L931.17 490.0 L933.57 495.0 L935.97 500.0 L938.37 505.3 L940.77 511.0 L943.17 517.1 L945.57 523.8 L947.97 531.1 L950.37 538.8 L952.77 547.1 L955.17 555.7 L957.57 564.7 L959.97 574.0 L962.37 583.6 L964.77 593.3 L967.17 603.2 L969.57 613.2 L971.97 623.3 L974.37 633.4 L976.77 643.6 L979.17 653.8 L981.57 663.9 L983.97 674.0 L986.37 684.0 L988.77 693.9 L991.17 703.7 L993.57 713.4 L995.97 722.9 L998.37 732.2 L1000.77 741.2 L1003.17 750.1 L1005.57 758.6 L1007.97 766.9 L1010.37 774.9 L1012.77 782.5 L1015.17 789.7 L1017.57 796.6 L1019.97 803.1 L1022.37 809.2 L1024.77 814.9 L1027.17 820.3 L1029.57 825.4 L1031.97 830.2 L1034.37 834.7 L1036.77 839.0 L1039.17 843.0 L1041.57 846.9 L1043.97 850.5 L1046.37 853.9 L1048.77 857.1 L1051.17 860.3 L1053.57 863.2 L1055.97 866.1 L1058.37 868.9 L1060.77 871.6 L1063.17 874.3 L1065.57 876.9 L1067.97 879.5 L1070.37 882.2 L1072.77 884.8 L1075.17 887.5 L1077.57 890.2 L1079.97 893.0 L1082.37 895.9 L1084.77 898.7 L1087.17 901.7 L1089.57 904.6 L1091.97 907.6 L1094.37 910.7 L1096.77 913.8 L1099.17 916.9 L1101.57 920.1 L1103.97 923.2 L1106.37 926.4 L1108.77 929.7 L1111.17 932.9 L1113.57 936.2 L1115.97 939.5 L1118.37 942.8 L1120.77 946.2 L1123.17 949.5 L1125.57 952.9 L1127.97 956.2 L1130.37 959.6 L1132.77 963.0 L1135.17 966.4 L1137.57 969.8 L1139.97 973.1 L1142.37 976.5 L1144.77 979.9 L1147.17 983.3 L1149.57 986.6 L1151.97 990.0 L1154.37 993.3 L1156.77 996.6 L1159.17 999.9 L1161.57 1003.2 L1163.97 1006.5 L1166.37 1009.7 L1168.77 1013.0 L1171.17 1016.2 L1173.57 1019.4 L1175.97 1022.6 L1178.37 1025.8 L1180.77 1029.0 L1183.17 1032.1 L1185.57 1035.3 L1187.97 1038.4 L1190.37 1041.5 L1192.77 1044.5 L1195.17 1047.6 L1197.57 1050.6 L1199.97 1053.6 L1202.37 1056.6 L1204.77 1059.6 L1207.17 1062.6 L1209.57 1065.5 L1211.97 1068.4 L1214.37 1071.3 L1216.77 1074.2 L1219.17 1077.0 L1221.57 1079.9 L1223.97 1082.7 L1226.37 1085.5 L1228.77 1088.2 L1231.17 1091.0 L1233.57 1093.7 L1235.97 1096.4 L1238.37 1099.0 L1240.77 1101.7 L1243.17 1104.3 L1245.57 1106.8 L1247.97 1109.4 L1250.37 1111.9 L1252.77 1114.4 L1255.17 1116.9 L1257.57 1119.3 L1259.97 1121.7 L1262.37 1124.1 L1264.77 1126.4 L1267.17 1128.7 L1269.57 1131.0 L1271.97 1133.2 L1274.37 1135.4 L1276.77 1137.6 L1279.17 1139.7 L1281.57 1141.8 L1283.97 1143.8 L1286.37 1145.8 L1288.77 1147.8 L1291.17 1149.8 L1293.57 1151.7 L1295.97 1153.5 L1298.37 1155.3 L1300.77 1157.1 L1303.17 1158.8 L1305.57 1160.5 L1307.97 1162.2 L1310.37 1163.8 L1312.77 1165.3 L1315.17 1166.8 L1317.57 1168.3 L1319.97 1169.7 L1322.37 1171.1 L1324.77 1172.4 L1327.17 1173.7 L1329.57 1174.9 L1331.97 1176.1 L1334.37 1177.2 L1336.77 1178.3 L1339.17 1179.3 L1341.57 1180.3 L1343.97 1181.2 L1346.37 1182.1 L1348.77 1182.9 L1351.17 1183.7 L1353.57 1184.4 L1355.97 1185.0 L1358.37 1185.6 L1360.77 1186.2 L1363.17 1186.6 L1365.57 1187.1 L1367.97 1187.4 L1370.37 1187.7 L1372.77 1188.0 L1375.17 1188.2 L1377.57 1188.3 L1379.97 1188.3 L1382.37 1188.3 L1384.77 1188.3 L1387.17 1188.2 L1389.60 1188.2"/>
<path stroke="#0000a0" d="M321.28 1190.9 L323.68 1191.1 L326.08 1191.3 L328.48 1191.4 L330.88 1191.4 L333.28 1191.4 L335.68 1191.4 L338.08 1191.4 L340.48 1191.4 L342.88 1191.4 L345.28 1191.4 L347.68 1191.4 L350.08 1191.4 L352.48 1191.1 L354.88 1190.3 L357.28 1189.3 L359.68 1188.1 L362.08 1186.7 L364.48 1184.9 L366.88 1182.9 L369.28 1180.6 L371.68 1178.0 L374.08 1175.0 L376.48 1171.7 L378.88 1168.0 L381.28 1163.9 L383.68 1159.3 L386.08 1154.4 L388.48 1149.0 L390.88 1143.1 L393.28 1136.7 L395.68 1129.8 L398.08 1122.4 L400.48 1114.4 L402.88 1105.8 L405.28 1096.8 L407.68 1087.3 L410.08 1077.5 L412.48 1067.3 L414.88 1056.8 L417.28 1046.1 L419.68 1035.4 L422.08 1025.0 L424.48 1014.8 L426.88 1004.8 L429.28 994.8 L431.68 985.0 L434.08 975.4 L436.48 966.1 L438.88 957.2 L441.28 948.8 L443.68 941.0 L446.08 933.8 L448.48 927.3 L450.88 921.7 L453.28 916.8 L455.68 912.7 L458.08 909.2 L460.48 906.5 L462.88 904.3 L465.28 902.8 L467.68 901.8 L470.08 901.4 L472.48 901.5 L474.88 902.0 L477.28 902.9 L479.68 904.3 L482.08 905.9 L484.48 907.9 L486.88 910.2 L489.28 912.7 L491.68 915.5 L494.08 918.4 L496.48 921.4 L498.88 924.6 L501.28 927.8 L503.68 931.1 L506.08 934.4 L508.48 937.7 L510.88 941.0 L513.28 944.3 L515.68 947.5 L518.08 950.7 L520.48 953.9 L522.88 956.9 L525.28 959.9 L527.68 962.7 L530.08 965.4 L532.48 968.0 L534.88 970.4 L537.28 972.6 L539.68 974.7 L542.08 976.6 L544.48 978.3 L546.88 979.9 L549.28 981.4 L551.68 982.7 L554.08 983.8 L556.48 984.8 L558.88 985.7 L561.28 986.4 L563.68 987.0 L566.08 987.5 L568.48 987.8 L570.88 988.0 L573.28 988.1 L575.68 988.1 L578.08 987.9 L580.48 987.6 L582.88 987.1 L585.28 986.6 L587.68 985.8 L590.08 985.0 L592.48 984.0 L594.88 982.9 L597.28 981.7 L599.68 980.3 L602.08 978.8 L604.48 977.2 L606.88 975.4 L609.28 973.5 L611.68 971.5 L614.08 969.3 L616.48 967.0 L618.88 964.6 L621.28 962.0 L623.68 959.3 L626.08 956.4 L628.48 953.4 L630.88 950.3 L633.28 947.0 L635.68 943.6 L638.08 940.1 L640.48 936.4 L642.88 932.6 L645.28 928.6 L647.68 924.5 L650.08 920.3 L652.48 915.9 L654.88 911.4 L657.28 906.7 L659.68 901.9 L662.08 897.0 L664.48 891.9 L666.88 886.6 L669.28 881.3 L671.68 875.7 L674.08 870.1 L676.48 864.3 L678.88 858.3 L681.28 852.2 L683.68 846.0 L686.08 839.6 L688.48 833.1 L690.88 826.4 L693.28 819.6 L695.68 812.6 L698.08 805.5 L700.48 798.3 L702.88 790.9 L705.28 783.4 L707.68 775.9 L710.08 768.2 L712.48 760.4 L714.88 752.5 L717.28 744.6 L719.68 736.6 L722.08 728.6 L724.48 720.5 L726.88 712.3 L729.28 704.1 L731.68 695.9 L734.08 687.7 L736.48 679.5 L738.88 671.3 L741.28 663.1 L743.68 654.9 L746.08 646.7 L748.48 638.6 L750.88 630.5 L753.28 622.4 L755.68 614.4 L758.08 606.5 L760.48 598.6 L762.88 590.8 L765.28 583.0 L767.68 575.2 L770.08 567.5 L772.48 559.8 L774.88 552.1 L777.28 544.7 L779.68 537.5 L782.08 530.8 L784.48 524.7 L786.88 519.1 L789.28 514.0 L791.68 509.4 L794.08 505.3 L796.48 501.6 L798.88 498.2 L801.28 495.2 L803.68 492.5 L806.08 490.1 L808.48 487.9 L810.88 485.9 L813.28 484.1 L815.68 482.4 L818.08 480.8 L820.48 479.3 L822.88 477.9 L825.28 476.5 L827.68 475.2 L830.08 474.0 L832.48 472.9 L834.88 471.9 L837.28 471.0 L839.68 470.2 L842.08 469.6 L844.48 469.1 L846.88 468.7 L849.28 468.5 L851.68 468.5 L854.08 468.7 L856.48 469.0 L858.88 469.6 L861.28 470.3 L863.68 471.3 L866.08 472.5 L868.48 473.9 L870.88 475.6 L873.28 477.5 L875.68 479.7 L878.08 482.1 L880.48 484.7 L882.88 487.5 L885.28 490.5 L887.68 493.6 L890.08 497.0 L892.48 500.4 L894.88 504.0 L897.28 507.7 L899.68 511.6 L902.08 515.5 L904.48 519.4 L906.88 523.5 L909.28 527.5 L911.68 531.7 L914.08 535.8 L916.48 539.9 L918.88 544.0 L921.28 548.1 L923.68 552.2 L926.08 556.4 L928.48 560.7 L930.88 565.1 L933.28 569.8 L935.68 574.6 L938.08 579.8 L940.48 585.3 L942.88 591.1 L945.28 597.3 L947.68 604.0 L950.08 611.2 L952.48 618.7 L954.88 626.6 L957.28 634.8 L959.68 643.3 L962.08 652.0 L964.48 660.8 L966.88 669.8 L969.28 678.9 L971.68 688.0 L974.08 697.1 L976.48 706.2 L978.88 715.2 L981.28 724.2 L983.68 733.1 L986.08 742.0 L988.48 750.7 L990.88 759.4 L993.28 767.9 L995.68 776.2 L998.08 784.4 L1000.48 792.4 L1002.88 800.2 L1005.28 807.7 L1007.68 815.0 L1010.08 822.1 L1012.48 828.9 L1014.88 835.4 L1017.28 841.7 L1019.68 847.5 L1022.08 853.1 L1024.48 858.3 L1026.88 863.2 L1029.28 867.8 L1031.68 872.0 L1034.08 876.1 L1036.48 879.8 L1038.88 883.4 L1041.28 886.7 L1043.68 889.9 L1046.08 892.9 L1048.48 895.8 L1050.88 898.6 L1053.28 901.3 L1055.68 904.0 L1058.08 906.6 L1060.48 909.1 L1062.88 911.7 L1065.28 914.2 L1067.68 916.7 L1070.08 919.2 L1072.48 921.7 L1074.88 924.2 L1077.28 926.7 L1079.68 929.2 L1082.08 931.7 L1084.48 934.2 L1086.88 936.8 L1089.28 939.4 L1091.68 942.0 L1094.08 944.7 L1096.48 947.4 L1098.88 950.1 L1101.28 952.8 L1103.68 955.5 L1106.08 958.3 L1108.48 961.1 L1110.88 963.9 L1113.28 966.8 L1115.68 969.6 L1118.08 972.5 L1120.48 975.4 L1122.88 978.3 L1125.28 981.2 L1127.68 984.1 L1130.08 987.0 L1132.48 989.9 L1134.88 992.9 L1137.28 995.8 L1139.68 998.8 L1142.08 1001.7 L1144.48 1004.7 L1146.88 1007.6 L1149.28 1010.5 L1151.68 1013.5 L1154.08 1016.4 L1156.48 1019.3 L1158.88 1022.3 L1161.28 1025.2 L1163.68 1028.1 L1166.08 1030.9 L1168.48 1033.8 L1170.88 1036.7 L1173.28 1039.5 L1175.68 1042.4 L1178.08 1045.2 L1180.48 1048.0 L1182.88 1050.8 L1185.28 1053.6 L1187.68 1056.4 L1190.08 1059.1 L1192.48 1061.9 L1194.88 1064.6 L1197.28 1067.3 L1199.68 1070.0 L1202.08 1072.7 L1204.48 1075.4 L1206.88 1078.0 L1209.28 1080.6 L1211.68 1083.2 L1214.08 1085.8 L1216.48 1088.4 L1218.88 1090.9 L1221.28 1093.4 L1223.68 1095.9 L1226.08 1098.4 L1228.48 1100.9 L1230.88 1103.3 L1233.28 1105.7 L1235.68 1108.1 L1238.08 1110.4 L1240.48 1112.8 L1242.88 1115.1 L1245.28 1117.4 L1247.68 1119.6 L1250.08 1121.9 L1252.48 1124.1 L1254.88 1126.3 L1257.28 1128.4 L1259.68 1130.5 L1262.08 1132.6 L1264.48 1134.7 L1266.88 1136.7 L1269.28 1138.7 L1271.68 1140.7 L1274.08 1142.6 L1276.48 1144.6 L1278.88 1146.4 L1281.28 1148.3 L1283.68 1150.1 L1286.08 1151.9 L1288.48 1153.6 L1290.88 1155.3 L1293.28 1157.0 L1295.68 1158.7 L1298.08 1160.3 L1300.48 1161.8 L1302.88 1163.4 L1305.28 1164.9 L1307.68 1166.3 L1310.08 1167.7 L1312.48 1169.1 L1314.88 1170.5 L1317.28 1171.8 L1319.68 1173.0 L1322.08 1174.2 L1324.48 1175.4 L1326.88 1176.6 L1329.28 1177.7 L1331.68 1178.7 L1334.08 1179.7 L1336.48 1180.7 L1338.88 1181.6 L1341.28 1182.5 L1343.68 1183.3 L1346.08 1184.1 L1348.48 1184.9 L1350.88 1185.6 L1353.28 1186.2 L1355.68 1186.8 L1358.08 1187.4 L1360.48 1187.9 L1362.88 1188.3 L1365.28 1188.8 L1367.68 1189.1 L1370.08 1189.4 L1372.48 1189.7 L1374.88 1189.9 L1377.28 1190.1 L1379.68 1190.2 L1382.08 1190.2 L1384.48 1190.2 L1386.88 1190.2 L1389.60 1190.2"/>
</g>
<g fill="none" stroke-width="3.4">
<line x1="421.0" y1="235.5" x2="587.2" y2="235.5" stroke="#000000"/>
<line x1="421.0" y1="327.5" x2="587.2" y2="327.5" stroke="#ff0000"/>
<line x1="421.0" y1="419.4" x2="587.2" y2="419.4" stroke="#00ff00"/>
<line x1="421.0" y1="511.0" x2="587.2" y2="511.0" stroke="#ff00ff"/>
<line x1="421.0" y1="602.8" x2="587.2" y2="602.8" stroke="#ff8000"/>
<line x1="421.0" y1="694.7" x2="587.2" y2="694.7" stroke="#0000a0"/>
</g>
<g id="y-tick-labels">
<text class="san"><tspan x="314.40" y="1226.60" font-size="105.31" stroke-width="0.6" textLength="53.08" lengthAdjust="spacingAndGlyphs">0</tspan></text>
<text class="san"><tspan x="314.10" y="944.45" font-size="105.50" stroke-width="0.6" textLength="53.77" lengthAdjust="spacingAndGlyphs">5</tspan></text>
<text class="san"><tspan x="259.25" y="661.70" font-size="106.81" stroke-width="0.6" textLength="58.13" lengthAdjust="spacingAndGlyphs">1</tspan><tspan x="314.40" y="661.65" font-size="105.30" stroke-width="0.6" textLength="53.08" lengthAdjust="spacingAndGlyphs">0</tspan></text>
<rect x="265.19" y="652.49" width="19.84" height="11.21" fill="#fefefe"/>
<rect x="295.23" y="652.49" width="18.65" height="11.21" fill="#fefefe"/>
<text class="san"><tspan x="259.25" y="379.10" font-size="106.44" stroke-width="0.6" textLength="58.13" lengthAdjust="spacingAndGlyphs">1</tspan><tspan x="314.10" y="379.50" font-size="105.50" stroke-width="0.6" textLength="53.77" lengthAdjust="spacingAndGlyphs">5</tspan></text>
<rect x="265.19" y="369.92" width="19.84" height="11.18" fill="#fefefe"/>
<rect x="295.23" y="369.92" width="18.65" height="11.18" fill="#fefefe"/>
<text class="san"><tspan x="256.25" y="96.65" font-size="105.21" stroke-width="0.6" textLength="56.70" lengthAdjust="spacingAndGlyphs">2</tspan><tspan x="314.40" y="96.70" font-size="105.30" stroke-width="0.6" textLength="53.08" lengthAdjust="spacingAndGlyphs">0</tspan></text>
</g>
<g id="x-tick-labels">
<text class="ser"><tspan x="408.30" y="1302.95" font-size="105.34" stroke-width="0.5" textLength="151.44" lengthAdjust="spacingAndGlyphs">300</tspan></text>
<text class="ser"><tspan x="721.40" y="1302.95" font-size="105.72" stroke-width="0.5" textLength="149.32" lengthAdjust="spacingAndGlyphs">375</tspan></text>
<text class="ser"><tspan x="1035.15" y="1302.95" font-size="105.34" stroke-width="0.5" textLength="150.54" lengthAdjust="spacingAndGlyphs">450</tspan></text>
<text class="ser"><tspan x="1346.40" y="1302.95" font-size="105.72" stroke-width="0.5" textLength="149.35" lengthAdjust="spacingAndGlyphs">525</tspan></text>
<text class="ser"><tspan x="1659.70" y="1302.95" font-size="105.34" stroke-width="0.5" textLength="151.96" lengthAdjust="spacingAndGlyphs">600</tspan></text>
</g>
<g id="legend-labels">
<text class="ser"><tspan x="598.40" y="145.00" font-size="73.77" stroke-width="0.5" textLength="32.67" lengthAdjust="spacingAndGlyphs">c</tspan><tspan x="628.85" y="173.90" font-size="45.84" stroke-width="0.3" textLength="124.97" lengthAdjust="spacingAndGlyphs">thymol</tspan> <tspan x="787.90" y="144.75" font-size="75.65" stroke-width="0.5" textLength="176.97" lengthAdjust="spacingAndGlyphs">(wt%)</tspan></text>
<text class="ser"><tspan x="727.25" y="259.75" font-size="77.85" stroke-width="0.5" textLength="127.37" lengthAdjust="spacingAndGlyphs">0.40</tspan></text>
<text class="ser"><tspan x="727.25" y="351.60" font-size="77.85" stroke-width="0.5" textLength="127.37" lengthAdjust="spacingAndGlyphs">0.68</tspan></text>
<text class="ser"><tspan x="727.25" y="443.45" font-size="77.85" stroke-width="0.5" textLength="127.37" lengthAdjust="spacingAndGlyphs">0.87</tspan></text>
<text class="ser"><tspan x="727.25" y="535.30" font-size="77.85" stroke-width="0.5" textLength="127.37" lengthAdjust="spacingAndGlyphs">1.01</tspan></text>
<text class="ser"><tspan x="727.25" y="627.15" font-size="77.85" stroke-width="0.5" textLength="127.37" lengthAdjust="spacingAndGlyphs">1.22</tspan></text>
<text class="ser"><tspan x="727.25" y="719.00" font-size="77.85" stroke-width="0.5" textLength="127.37" lengthAdjust="spacingAndGlyphs">1.39</tspan></text>
</g>
<g id="axis-titles">
<text class="ser"><tspan x="921.25" y="1489.85" font-size="110.30" stroke-width="0.5" textLength="56.29" lengthAdjust="spacingAndGlyphs">λ</tspan> <tspan x="1002.70" y="1488.30" font-size="114.05" stroke-width="0.5" textLength="213.21" lengthAdjust="spacingAndGlyphs">(nm)</tspan></text>
<text class="ser" transform="rotate(-90)"><tspan x="-801.15" y="109.00" font-size="114.16" stroke-width="0.5" textLength="41.24" lengthAdjust="spacingAndGlyphs">I</tspan><tspan x="-760.65" y="152.75" font-size="68.09" stroke-width="0.3" textLength="35.96" lengthAdjust="spacingAndGlyphs">F</tspan> <tspan x="-694.65" y="109.60" font-size="114.40" stroke-width="0.5" textLength="213.66" lengthAdjust="spacingAndGlyphs">(u.a)</tspan></text>
</g>
</svg></body></html>
